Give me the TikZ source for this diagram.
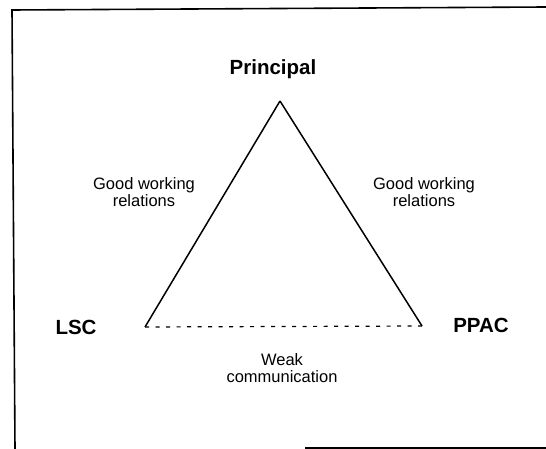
\documentclass[tikz,border=0pt]{standalone}
\usepackage{fontspec}
\setmainfont{Liberation Sans}
\usetikzlibrary{positioning}
\usetikzlibrary{calc}
\tikzstyle{party}=[font=\fontsize{20.5}{24}\selectfont\bfseries,inner sep=0pt]
\tikzstyle{relation}=[font=\fontsize{16.5}{17}\selectfont,align=center,inner sep=0pt]
\tikzstyle{edge} = [draw,line width=1.5pt]
\tikzstyle{weakedge} = [draw,line width=1.2pt,dash pattern=on 4pt off 6.5pt]
\tikzstyle{frame} = [draw,line width=1.6pt]

\begin{document}
\begin{tikzpicture}[x=1pt,y=-1pt]
    \useasboundingbox (0,0) rectangle (546,449);

    % scanned frame (open at the right)
    \coordinate (tl) at (12,10);
    \coordinate (tr) at (546,7);
    \coordinate (bl) at (15,449);
    \coordinate (bm) at (305,448);
    \coordinate (br) at (546,448);
    \path[frame] (tr) -- (tl) -- (bl);
    \path[frame] (bm) -- (br);

    % corners of the triangle
    \coordinate (top) at (280,101);
    \coordinate (left) at (145,327);
    \coordinate (right) at (422,326);

    \foreach \pos/\name/\label in {{(273,69)/principal/Principal}, {(76,327)/lsc/LSC}, {(481,325)/ppac/PPAC}}
        \node[party] (\name) at \pos {\label};

    \foreach \pos/\name/\label in {{(144,192)/goodL/{Good working\\relations}}, {(424,192)/goodR/{Good working\\relations}}, {(282,368)/weak/{Weak\\communication}}}
        \node[relation] (\name) at \pos {\label};

    \foreach \source/ \dest in {top/left, top/right}
        \path[edge] (\source) -- (\dest);
    \path[weakedge] (left) -- (right);
\end{tikzpicture}
\end{document}
